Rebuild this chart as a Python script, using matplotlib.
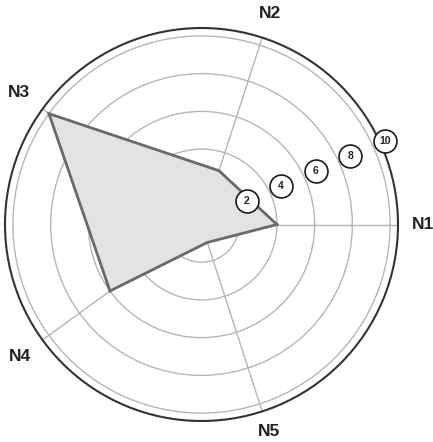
import numpy as np
import matplotlib
matplotlib.use("Agg")
import matplotlib.pyplot as plt
from matplotlib.transforms import ScaledTranslation

categories = ["N1", "N2", "N3", "N4", "N5"]
values = [4, 3, 10, 6, 1]
ring_ticks = [2, 4, 6, 8, 10]
ring_labels = ["2", "4", "6", "8", "10"]

plt.rcParams['font.family'] = ['Liberation Sans', 'DejaVu Sans']

fig = plt.figure(figsize=(4.33, 4.42), dpi=100)
ax = fig.add_axes([5/433, 21/442, 393/433, 393/442], projection='polar')

n = len(categories)
angles = np.deg2rad(np.arange(n) * 360.0 / n)
rmax = 10.42
ax.set_ylim(0, rmax)
ax.set_theta_offset(0)

# grid rings
ax.set_yticks(ring_ticks)
ax.set_yticklabels([])
ax.set_xticks(angles)
ax.set_xticklabels([])
ax.grid(True, color='#b6b6b6', linewidth=1.0)
ax.spines['polar'].set_color('#333333')
ax.spines['polar'].set_linewidth(1.5)

# data polygon
th = np.append(angles, angles[0])
vv = np.append(values, values[0])
ax.fill(th, vv, color='#e3e3e5', zorder=2)
ax.plot(th, vv, color='#6a6a6a', linewidth=2.0, zorder=3, solid_joinstyle='miter')

# category labels
label_r = [11.75, 11.75, 11.95, 11.9, 11.55]
for a, c, lr in zip(angles, categories, label_r):
    ax.text(a, lr, c, ha='center', va='center', fontsize=12.5,
            fontweight='bold', color='#222222', clip_on=False)

# circled ring labels
label_angle = np.deg2rad(23.4)
off = ScaledTranslation(10.4/100, 9/100, fig.dpi_scale_trans)
trans = ax.transData + off
for t, lab in zip(ring_ticks, ring_labels):
    ax.plot([label_angle], [t], marker='o', ms=16.5, mfc='white', mec='#1a1a1a',
            mew=1.2, transform=trans, clip_on=False, zorder=6)
    ax.text(label_angle, t, lab, transform=trans, ha='center', va='center',
            fontsize=7.5, fontweight='bold', color='#222222', zorder=7, clip_on=False)

fig.savefig("out.png", dpi=100)
